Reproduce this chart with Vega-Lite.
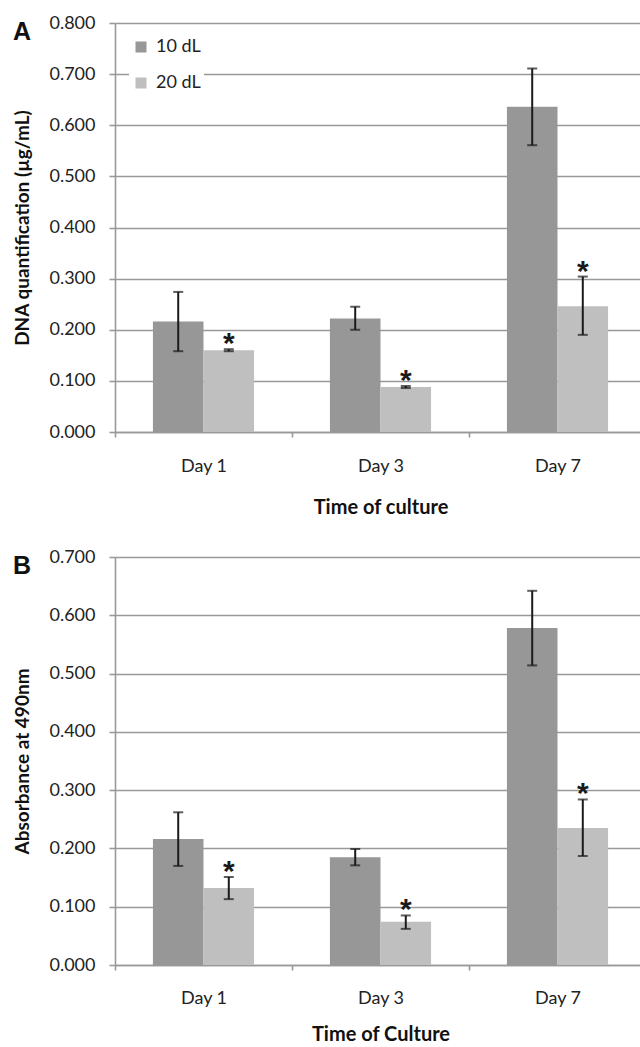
{
  "$schema": "https://vega.github.io/schema/vega-lite/v6.json",
  "background": "white",
  "padding": {"left": 12, "top": 14, "right": 0, "bottom": 0},
  "bounds": "flush",
  "spacing": 125,
  "config": {
    "view": {"stroke": null},
    "font": "Lato",
    "axis": {
      "domainColor": "#999999", "domainWidth": 1.6,
      "tickColor": "#999999", "tickWidth": 1.6,
      "gridColor": "#999999", "gridWidth": 1.6,
      "labelFont": "Lato", "labelFontSize": 18, "labelColor": "#222",
      "titleFont": "Lato", "titleFontSize": 19, "titleFontWeight": "bold", "titleColor": "#111"
    },
    "legend": {
      "orient": "none", "legendX": 14, "legendY": 12,
      "symbolType": "square", "symbolSize": 121, "symbolStrokeWidth": 0,
      "labelFont": "Lato", "labelFontSize": 18, "labelColor": "#222",
      "rowPadding": 18, "fillColor": "white", "padding": 3, "labelOffset": 6
    },
    "title": {"font": "Liberation Sans", "fontSize": 25, "fontWeight": "bold", "color": "#111", "anchor": "start", "frame": "bounds"}
  },
  "datasets": {
    "a": [
      {"day": "Day 1", "group": "10 dL", "value": 0.216, "lo": 0.158, "hi": 0.274, "sig": false},
      {"day": "Day 1", "group": "20 dL", "value": 0.160, "lo": 0.158, "hi": 0.162, "sig": true},
      {"day": "Day 3", "group": "10 dL", "value": 0.222, "lo": 0.200, "hi": 0.245, "sig": false},
      {"day": "Day 3", "group": "20 dL", "value": 0.088, "lo": 0.086, "hi": 0.090, "sig": true},
      {"day": "Day 7", "group": "10 dL", "value": 0.636, "lo": 0.561, "hi": 0.711, "sig": false},
      {"day": "Day 7", "group": "20 dL", "value": 0.246, "lo": 0.190, "hi": 0.304, "sig": true}
    ],
    "b": [
      {"day": "Day 1", "group": "10 dL", "value": 0.216, "lo": 0.170, "hi": 0.262, "sig": false},
      {"day": "Day 1", "group": "20 dL", "value": 0.132, "lo": 0.113, "hi": 0.151, "sig": true},
      {"day": "Day 3", "group": "10 dL", "value": 0.185, "lo": 0.171, "hi": 0.199, "sig": false},
      {"day": "Day 3", "group": "20 dL", "value": 0.074, "lo": 0.062, "hi": 0.085, "sig": true},
      {"day": "Day 7", "group": "10 dL", "value": 0.578, "lo": 0.514, "hi": 0.642, "sig": false},
      {"day": "Day 7", "group": "20 dL", "value": 0.235, "lo": 0.187, "hi": 0.284, "sig": true}
    ]
  },
  "vconcat": [
    {
      "data": {"name": "a"},
      "width": 526,
      "height": 409,
      "title": {"text": "A", "baseline": "top", "offset": 0, "dy": 31, "dx": -1},
      "encoding": {
        "x": {
          "field": "day", "type": "nominal", "sort": ["Day 1", "Day 3", "Day 7"],
          "scale": {"range": [0, 531], "paddingInner": 0, "paddingOuter": 0},
          "title": "Time of culture",
          "axis": {"labelAngle": 0, "tickBand": "extent", "tickSize": 5, "labelPadding": 20, "titlePadding": 22, "titleFontSize": 20, "grid": false}
        },
        "xOffset": {"field": "group", "type": "nominal", "sort": ["10 dL", "20 dL"], "scale": {"paddingInner": 0, "paddingOuter": 0.75}}
      },
      "layer": [
        {
          "mark": {"type": "bar"},
          "encoding": {
            "y": {
              "field": "value", "type": "quantitative",
              "scale": {"domain": [0, 0.8], "nice": false},
              "title": "DNA quantification (µg/mL)",
              "axis": {"values": [0, 0.1, 0.2, 0.3, 0.4, 0.5, 0.6, 0.7, 0.8], "format": ".3f", "tickSize": 6, "labelPadding": 14, "titlePadding": 16}
            },
            "color": {
              "field": "group", "type": "nominal",
              "scale": {"domain": ["10 dL", "20 dL"], "range": ["#979797", "#bfbfbf"]},
              "legend": {"title": null}
            }
          }
        },
        {
          "mark": {"type": "rule", "color": "#1a1a1a", "strokeWidth": 2},
          "encoding": {"y": {"field": "lo", "type": "quantitative", "title": "DNA quantification (µg/mL)"}, "y2": {"field": "hi"}}
        },
        {
          "mark": {"type": "tick", "color": "#1a1a1a", "thickness": 2, "size": 10, "orient": "horizontal"},
          "encoding": {"y": {"field": "lo", "type": "quantitative", "title": "DNA quantification (µg/mL)"}}
        },
        {
          "mark": {"type": "tick", "color": "#1a1a1a", "thickness": 2, "size": 10, "orient": "horizontal"},
          "encoding": {"y": {"field": "hi", "type": "quantitative", "title": "DNA quantification (µg/mL)"}}
        },
        {
          "transform": [{"filter": "datum.sig"}],
          "mark": {"type": "text", "text": "*", "font": "Liberation Sans", "fontSize": 30, "fontWeight": "bold", "color": "#1a1a1a", "baseline": "alphabetic", "dy": 4},
          "encoding": {"y": {"field": "hi", "type": "quantitative", "title": "DNA quantification (µg/mL)"}}
        }
      ]
    },
    {
      "data": {"name": "b"},
      "width": 526,
      "height": 408,
      "title": {"text": "B", "baseline": "top", "offset": 0, "dy": 31, "dx": -1},
      "encoding": {
        "x": {
          "field": "day", "type": "nominal", "sort": ["Day 1", "Day 3", "Day 7"],
          "scale": {"range": [0, 531], "paddingInner": 0, "paddingOuter": 0},
          "title": "Time of Culture",
          "axis": {"labelAngle": 0, "tickBand": "extent", "tickSize": 5, "labelPadding": 19, "titlePadding": 17, "titleFontSize": 20, "grid": false}
        },
        "xOffset": {"field": "group", "type": "nominal", "sort": ["10 dL", "20 dL"], "scale": {"paddingInner": 0, "paddingOuter": 0.75}}
      },
      "layer": [
        {
          "mark": {"type": "bar"},
          "encoding": {
            "y": {
              "field": "value", "type": "quantitative",
              "scale": {"domain": [0, 0.7], "nice": false},
              "title": "Absorbance at 490nm",
              "axis": {"values": [0, 0.1, 0.2, 0.3, 0.4, 0.5, 0.6, 0.7], "format": ".3f", "tickSize": 6, "labelPadding": 14, "titlePadding": 16}
            },
            "color": {
              "field": "group", "type": "nominal",
              "scale": {"domain": ["10 dL", "20 dL"], "range": ["#979797", "#bfbfbf"]},
              "legend": {"title": null}
            }
          }
        },
        {
          "mark": {"type": "rule", "color": "#1a1a1a", "strokeWidth": 2},
          "encoding": {"y": {"field": "lo", "type": "quantitative", "title": "Absorbance at 490nm"}, "y2": {"field": "hi"}}
        },
        {
          "mark": {"type": "tick", "color": "#1a1a1a", "thickness": 2, "size": 10, "orient": "horizontal"},
          "encoding": {"y": {"field": "lo", "type": "quantitative", "title": "Absorbance at 490nm"}}
        },
        {
          "mark": {"type": "tick", "color": "#1a1a1a", "thickness": 2, "size": 10, "orient": "horizontal"},
          "encoding": {"y": {"field": "hi", "type": "quantitative", "title": "Absorbance at 490nm"}}
        },
        {
          "transform": [{"filter": "datum.sig"}],
          "mark": {"type": "text", "text": "*", "font": "Liberation Sans", "fontSize": 30, "fontWeight": "bold", "color": "#1a1a1a", "baseline": "alphabetic", "dy": 4},
          "encoding": {"y": {"field": "hi", "type": "quantitative", "title": "Absorbance at 490nm"}}
        }
      ]
    }
  ]
}
